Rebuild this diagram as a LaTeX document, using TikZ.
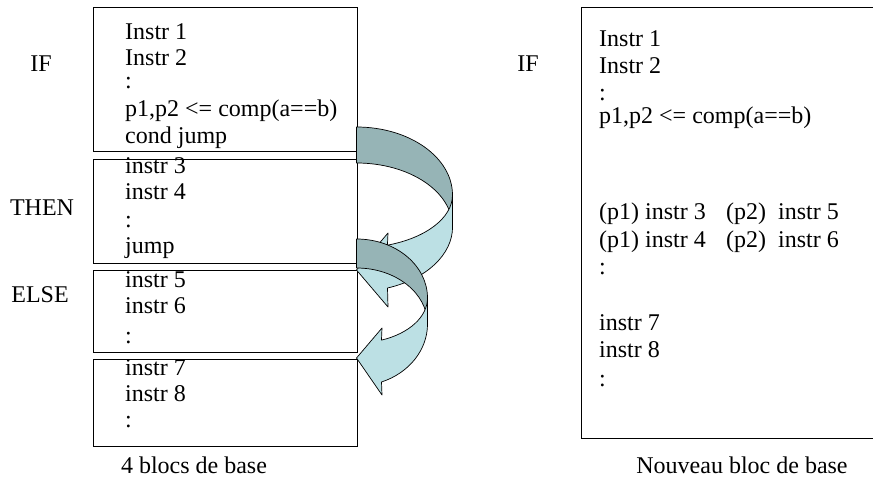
\documentclass[tikz,border=0pt]{standalone}
\usepackage{fontspec}
\setmainfont{Liberation Serif}
\definecolor{darkband}{RGB}{150,180,182}
\definecolor{lightband}{RGB}{188,224,228}
\begin{document}
\begin{tikzpicture}[x=1pt,y=1pt,
  blk/.style={draw=black, line width=0.8pt, inner sep=0pt, anchor=north west, minimum width=264pt},
  txt/.style={font=\fontsize{24}{27}\selectfont, inner sep=0pt, anchor=base west},
  lbl/.style={font=\fontsize{24}{27}\selectfont, inner sep=0pt, anchor=base},
  band/.style={draw=black, line width=0.7pt, line join=round}]
\useasboundingbox (0,0) rectangle (873,-492);
% left boxes
\node[blk, minimum height=144pt] (b1) at (92.5,-7) {};
\node[blk, minimum height=104pt] (b2) at (92.5,-159) {};
\node[blk, minimum height=82pt] (b3) at (92.5,-270) {};
\node[blk, minimum height=87pt] (b4) at (92.5,-359) {};
% right box
\node[blk, minimum width=300pt, minimum height=431pt] (rb) at (581,-7) {};
% labels
\node[lbl] (lif) at (41,-71.7) {IF};
\node[lbl] (lthen) at (42,-215) {THEN};
\node[lbl] (lelse) at (40,-302) {ELSE};
\node[lbl] (rif) at (528,-71.7) {IF};
% box 1 text
\node[txt] (t11) at (125,-40) {Instr 1};
\node[txt] (t12) at (125,-66) {Instr 2};
\node[txt] (t13) at (125,-89) {:};
\node[txt] (t14) at (125,-117) {p1,p2 <= comp(a==b)};
\node[txt] (t15) at (125,-144) {cond jump};
% box 2 text
\node[txt] (t21) at (125,-174) {instr 3};
\node[txt] (t22) at (125,-200) {instr 4};
\node[txt] (t23) at (125,-227) {:};
\node[txt] (t24) at (125,-253) {jump};
% box 3 text
\node[txt] (t31) at (125,-287) {instr 5};
\node[txt] (t32) at (125,-313) {instr 6};
\node[txt] (t33) at (125,-343) {:};
% box 4 text
\node[txt] (t41) at (125,-375) {instr 7};
\node[txt] (t42) at (125,-401) {instr 8};
\node[txt] (t43) at (125,-427) {:};
% right box text
\node[txt] (r1) at (599,-46.5) {Instr 1};
\node[txt] (r2) at (599,-73.5) {Instr 2};
\node[txt] (r3) at (599,-101) {:};
\node[txt] (r4) at (599,-124) {p1,p2 <= comp(a==b)};
\node[txt] (r5) at (599,-219.5) {(p1) instr 3};
\node[txt] (r5b) at (726,-219.5) {(p2)\ \ instr 5};
\node[txt] (r6) at (599,-247) {(p1) instr 4};
\node[txt] (r6b) at (726,-247) {(p2)\ \ instr 6};
\node[txt] (r7) at (599,-274.5) {:};
\node[txt] (r8) at (599,-330) {instr 7};
\node[txt] (r9) at (599,-357.5) {instr 8};
\node[txt] (r10) at (599,-386) {:};
% bottom captions
\node[lbl] (cap1) at (194,-473) {4 blocs de base};
\node[lbl] (cap2) at (742,-473) {Nouveau bloc de base};
% curved arrow 1 (IF -> ELSE)
\draw[band, fill=darkband] (356.5,-127) arc[start angle=90, end angle=0, x radius=96, y radius=68]
  -- (452.5,-227) arc[start angle=0, end angle=90, x radius=96, y radius=64] -- cycle;
\draw[band, fill=lightband] (452.5,-195) arc[start angle=0, end angle=-71.2, x radius=96, y radius=53]
  -- (388,-233) -- (356.5,-270) -- (388,-307) -- (387.5,-288)
  arc[start angle=-71.2, end angle=0, x radius=96, y radius=64.5] -- cycle;
% curved arrow 2 (THEN -> after ELSE)
\draw[band, fill=darkband] (356.5,-239) arc[start angle=90, end angle=0, x radius=71, y radius=59]
  -- (427.5,-324) arc[start angle=0, end angle=90, x radius=71, y radius=56] -- cycle;
\draw[band, fill=lightband] (427.5,-298) arc[start angle=0, end angle=-69.4, x radius=71, y radius=45]
  -- (382,-328) -- (356.5,-358) -- (382,-395) -- (381.5,-382)
  arc[start angle=-69.4, end angle=0, x radius=71, y radius=62] -- cycle;
\end{tikzpicture}
\end{document}
